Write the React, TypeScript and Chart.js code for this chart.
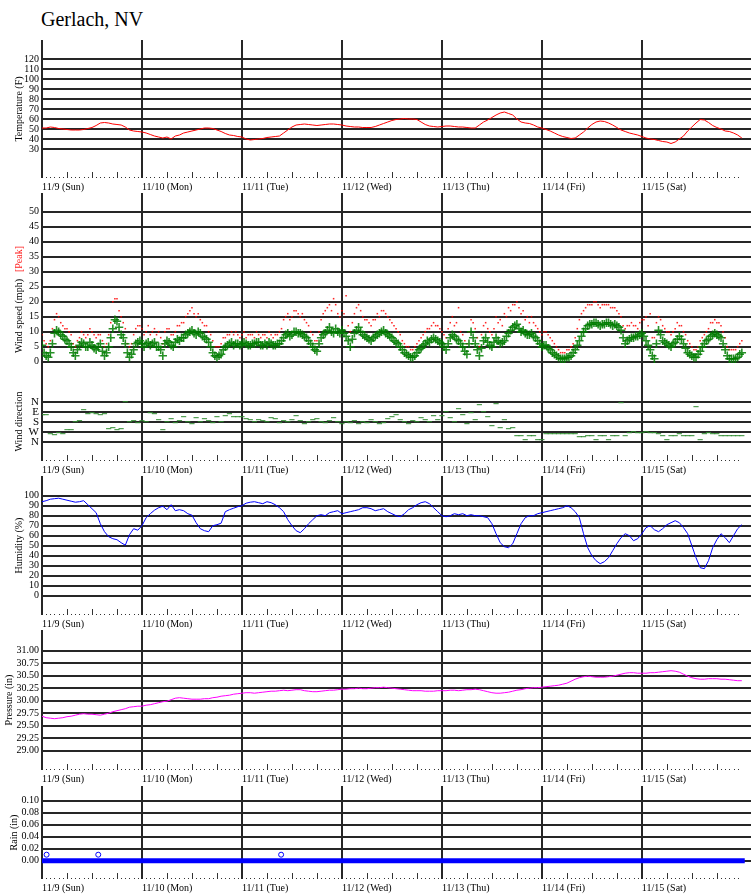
import React, { useEffect, useRef } from 'react';
import { Chart, registerables } from 'chart.js';

Chart.register(...registerables);

const FONT = "'Liberation Serif', 'Times New Roman', serif";
const GRID = '#262626';
const X_MAX = 170.2;

// Day ticks (hours since 11/9 00:00)
const DAY_TICKS = [0, 24, 48, 72, 96, 120, 144];
const DAY_LABELS = ['11/9 (Sun)', '11/10 (Mon)', '11/11 (Tue)', '11/12 (Wed)', '11/13 (Thu)', '11/14 (Fri)', '11/15 (Sat)'];

// Y ticks
const TEMP_TICKS = [30, 40, 50, 60, 70, 80, 90, 100, 110, 120];
const WIND_TICKS = [0, 5, 10, 15, 20, 25, 30, 35, 40, 45, 50];
const DIR_TICKS = [0, 1, 2, 3, 4];
const DIR_LABELS = ['N', 'W', 'S', 'E', 'N'];
const HUM_TICKS = [0, 10, 20, 30, 40, 50, 60, 70, 80, 90, 100];
const PRES_TICKS = [29.0, 29.25, 29.5, 29.75, 30.0, 30.25, 30.5, 30.75, 31.0];
const RAIN_TICKS = [0, 0.02, 0.04, 0.06, 0.08, 0.1];

// Hourly series, hour 0 .. 168
const TEMP_F = [
  51, 51, 52, 51.5, 50.5, 50, 49.5, 49, 49, 49, 49.5, 50.5, 51.5, 53.5, 56, 56.5, 56, 55, 54.5, 54, 52, 49, 48, 47.5,
  47, 46, 44.5, 43, 42, 41, 42, 40, 43, 44, 46, 47, 48, 49, 50, 51, 51, 50.5, 49, 47.5, 45.5, 44, 43.5, 42.5,
  42, 40, 39, 39.5, 40, 40.5, 41.5, 42, 42.5, 43, 46, 49, 52, 54, 54.5, 55, 54.5, 54, 53.5, 54, 54.5, 55, 55, 54.5,
  54, 53, 52.5, 52, 52, 51.5, 51.5, 51.5, 52.5, 54, 55.5, 57, 58.5, 59.5, 60, 60.5, 60, 60, 59.5, 57, 54.5, 53, 52.5, 52,
  52.5, 53, 53, 52.5, 52, 52, 51.5, 51, 51, 54, 57, 59, 61.5, 64, 66, 67, 65.5, 64, 60, 57, 56, 55.5, 54, 52,
  51, 49.5, 48, 46, 44, 42.5, 41.5, 40.5, 41, 44, 47, 51, 54.5, 57, 58, 57.5, 56, 54, 51.5, 49, 47.5, 46, 45, 44,
  42.5, 41, 40, 39.5, 38.5, 37.5, 37, 35.5, 37, 40, 43, 48, 52, 56, 59.5, 59, 56.5, 53.5, 51.5, 50, 48, 47.5, 46, 44, 41,
];

// Sustained wind, on the hour (0..168) and at half past (0.5..167.5)
const WIND_MPH = [
  5.5, 2, 3, 9.5, 10, 8.5, 7, 5, 2, 5.5, 6, 5, 5.5, 4, 6, 2, 5, 11, 13.5, 9, 6, 1.5, 4, 6.5,
  6, 6, 5.5, 6.5, 5, 2, 7, 5.5, 6.5, 7, 8, 9.5, 10.5, 9, 9.5, 8, 6.5, 3, 1.5, 2.5, 5, 6, 5.5, 6,
  6, 6, 5.5, 6, 6.5, 5.5, 5.5, 6, 5.5, 6, 8, 9.5, 9, 10, 9.5, 8.5, 7, 5, 3.5, 8, 9.5, 11.5, 9.5, 10,
  10.5, 8.5, 5, 9.5, 11.5, 9, 8, 7, 8.5, 9.5, 10.5, 9, 8, 6.5, 5, 3, 2, 1.5, 3, 4.5, 6, 6.5, 8, 7,
  6, 4, 8, 8.5, 7, 5, 2.5, 10, 6, 2, 7, 6.5, 5, 8, 6, 7, 9.5, 11.5, 12.5, 10, 9.5, 9, 8.5, 7,
  5, 5.5, 4, 2.5, 1.5, 1, 1.5, 2, 4, 7, 10, 12, 12.5, 13, 12, 12.5, 13, 12, 12, 10.5, 6, 7.5, 8, 8.5,
  9.5, 7, 4, 1, 10.5, 7, 6, 5, 6.5, 8.5, 6, 3, 2, 1.5, 3.5, 6, 7.5, 9, 9, 8, 4, 1, 1, 1.5, 3,
];
const WIND_MPH_HALF = [
  3, 1.5, 6, 10.5, 9, 7.5, 6, 3, 4, 6.5, 5, 6.5, 4.5, 5, 3.5, 3, 8, 14, 11.5, 8, 3, 2.5, 6, 7,
  5, 6.5, 6, 5, 4, 6, 6.5, 5, 7.5, 8, 9, 10, 9.5, 10, 8.5, 7.5, 5, 2, 2, 4, 5.5, 6.5, 6, 5.5,
  6.5, 5.5, 6, 6.5, 5.5, 6, 6.5, 5.5, 6, 7, 9, 8.5, 10, 9.5, 9, 8, 6, 4, 6, 9, 10.5, 10, 11, 9.5,
  9.5, 7, 7.5, 10.5, 10, 8.5, 7.5, 8, 9, 10, 9.5, 8.5, 7, 6, 4, 2.5, 1.5, 2, 4, 5.5, 7, 7.5, 7.5, 6.5,
  5, 6, 9, 7.5, 6, 3.5, 6, 8, 4, 4.5, 8, 5.5, 6.5, 7, 6.5, 8.5, 10.5, 12, 11, 10.5, 9, 9.5, 8, 6,
  5.5, 4.5, 3, 2, 1, 1, 1.5, 3, 5.5, 8.5, 11, 12.5, 13, 12.5, 12.5, 13, 12.5, 12.5, 11.5, 8, 7, 8, 8.5, 9,
  8.5, 5.5, 2, 6, 9, 6.5, 5.5, 6, 7.5, 7.5, 4.5, 2.5, 1.5, 2.5, 5, 7, 8.5, 9.5, 8.5, 6, 2, 1, 1, 2.5,
];

// Peak gusts, on the hour and at half past
const WIND_PEAK = [
  9, 6, 7, 14, 15, 12, 11, 9, 5, 8, 9, 9, 10, 8, 9, 5, 9, 20, 21, 15, 11, 5, 9, 12,
  11, 10, 9, 11, 10, 6, 11, 9, 10, 12, 13, 16, 18, 15, 14, 12, 10, 7, 5, 6, 8, 9, 9, 9,
  9, 8, 9, 8, 9, 9, 8, 9, 9, 10, 14, 16, 15, 17, 15, 14, 12, 9, 7, 14, 17, 19, 21, 16,
  17, 22, 10, 16, 19, 15, 14, 12, 14, 15, 17, 15, 13, 11, 9, 6, 5, 4, 6, 8, 10, 11, 13, 12,
  10, 8, 13, 12, 18, 9, 6, 14, 11, 5, 12, 11, 9, 15, 14, 16, 18, 19, 20, 16, 14, 13, 13, 11,
  9, 10, 8, 6, 4, 3, 4, 5, 8, 14, 17, 19, 19, 20, 18, 19, 19, 18, 17, 15, 11, 12, 12, 11,
  14, 15, 16, 8, 15, 12, 10, 9, 11, 12, 10, 7, 5, 4, 7, 9, 11, 13, 13, 12, 8, 4, 4, 5, 7,
];
const WIND_PEAK_HALF = [
  7, 5, 11, 16, 13, 11, 10, 6, 7, 10, 8, 11, 9, 9, 7, 6, 13, 21, 17, 13, 6, 6, 11, 12,
  9, 12, 10, 9, 8, 10, 11, 9, 12, 13, 15, 17, 16, 16, 13, 12, 9, 5, 5, 8, 9, 10, 10, 8,
  10, 9, 9, 10, 8, 9, 10, 8, 9, 11, 15, 14, 17, 16, 16, 13, 10, 7, 10, 16, 18, 17, 19, 15,
  16, 12, 13, 18, 17, 14, 13, 14, 16, 17, 16, 14, 12, 10, 7, 5, 4, 5, 7, 9, 11, 12, 12, 11,
  9, 11, 15, 13, 10, 7, 10, 13, 8, 9, 13, 10, 11, 13, 12, 15, 17, 19, 18, 17, 15, 15, 12, 10,
  10, 9, 7, 5, 3, 3, 4, 6, 11, 16, 18, 19, 20, 19, 19, 19, 18, 18, 16, 12, 12, 13, 12, 13,
  14, 12, 8, 13, 14, 11, 10, 10, 13, 12, 9, 6, 4, 5, 8, 10, 13, 14, 13, 10, 5, 4, 4, 6,
];

// Wind direction on the 0..4 scale (N, W, S, E, N from bottom)
const WIND_DIR = [
  2.7, 2.7, 0.8, 0.7, 0.9, 0.8, 1.2, 1.2, 2.0, 2.1, 3.2, 2.8, 2.9, 2.8, 2.7, 2.8, 1.3, 1.4, 1.2, 1.3, 4.0, 2.0, 2.1, 1.9,
  2.1, 2.0, 2.9, 2.8, 2.2, 1.2, 2.0, 2.3, 1.9, 2.1, 2.5, 2.0, 1.8, 2.4, 2.0, 2.3, 2.1, 1.9, 2.5, 2.0, 2.6, 2.8, 2.5, 2.5,
  2.5, 2.3, 2.2, 2.0, 2.2, 2.1, 2.0, 2.4, 2.3, 1.9, 2.1, 2.0, 2.2, 2.6, 2.1, 1.8, 2.0, 2.2, 2.3, 2.0, 1.9, 2.1, 2.4, 2.0,
  1.8, 2.0, 1.9, 2.1, 1.8, 2.0, 1.9, 2.2, 2.0, 1.8, 1.9, 2.3, 2.5, 2.7, 2.2, 2.0, 1.8, 2.1, 2.0, 2.4, 2.2, 2.0, 2.6, 2.2,
  2.6, 3.0, 2.4, 2.0, 3.3, 2.7, 1.8, 2.9, 2.2, 3.7, 3.0, 2.5, 1.6, 3.8, 1.4, 2.2, 1.3, 1.4, 0.6, 0.6, 0.2, 0.6, 0.6, 0.2,
  0.2, 0.8, 0.8, 0.8, 0.8, 0.8, 0.8, 0.8, 0.8, 0.5, 0.5, 0.6, 0.6, 0.2, 0.6, 0.6, 0.2, 0.6, 0.6, 3.9, 0.6, 0.9, 1.0, 0.9,
  0.9, 1.0, 0.9, 0.9, 0.8, 0.6, 0.2, 0.6, 0.6, 0.8, 0.6, 0.6, 0.6, 3.5, 0.2, 0.8, 0.9, 0.8, 0.8, 0.6, 0.6, 0.6, 0.6, 0.6, 0.6,
];

const HUMIDITY = [
  94, 95, 96.5, 97, 97.5, 96.5, 95.5, 94.5, 93.5, 94, 95, 91, 87, 83, 72, 64, 59, 57, 56, 53, 50.5, 61, 67, 65.5,
  70, 78, 82, 85.5, 88, 89.5, 86, 91, 85, 86, 85, 82, 80.5, 73, 67, 65, 64, 70, 71, 72.5, 84, 86, 87.5, 89,
  90, 92.5, 93.5, 94, 93, 92, 94, 93, 91, 88, 84, 76, 70, 65, 63, 67, 72, 76, 80, 81, 80, 83, 84, 85,
  82, 83, 84, 85, 86, 88, 88, 87, 85, 86, 87, 84, 82, 80, 79, 82, 86, 88, 91, 93, 94, 92, 88, 84,
  80, 79, 80, 82, 81, 82, 80, 81, 80, 80, 79, 78, 72, 62, 53, 49, 48, 52, 62, 72, 78, 80, 80, 82,
  83, 84, 85, 86, 87, 88, 90, 88, 84, 78, 62, 48, 40, 35, 32, 34, 38, 45, 52, 58, 62, 60, 55, 57,
  62, 68, 70, 66, 64, 67, 71, 73, 75, 73, 68, 62, 50, 38, 28, 27, 35, 48, 56, 62, 58, 53, 60, 67, 71,
];

const PRESSURE = [
  29.69, 29.66, 29.65, 29.64, 29.65, 29.66, 29.68, 29.69, 29.71, 29.73, 29.74, 29.73, 29.73, 29.72, 29.71, 29.73, 29.75, 29.78, 29.8, 29.82, 29.84, 29.87, 29.88, 29.89,
  29.89, 29.91, 29.92, 29.94, 29.96, 29.98, 29.99, 30.02, 30.05, 30.06, 30.05, 30.04, 30.03, 30.03, 30.03, 30.04, 30.04, 30.06, 30.07, 30.09, 30.1, 30.11, 30.13, 30.14,
  30.15, 30.16, 30.16, 30.15, 30.16, 30.17, 30.18, 30.19, 30.19, 30.2, 30.21, 30.2, 30.21, 30.22, 30.22, 30.2, 30.19, 30.18, 30.18, 30.19, 30.2, 30.21, 30.21, 30.22,
  30.23, 30.23, 30.24, 30.24, 30.25, 30.24, 30.24, 30.25, 30.26, 30.26, 30.27, 30.26, 30.25, 30.24, 30.23, 30.22, 30.21, 30.2, 30.2, 30.2, 30.19, 30.19, 30.19, 30.2,
  30.2, 30.2, 30.21, 30.21, 30.2, 30.21, 30.22, 30.22, 30.23, 30.22, 30.2, 30.18, 30.16, 30.15, 30.15, 30.16, 30.17, 30.19, 30.21, 30.22, 30.24, 30.25, 30.26, 30.26,
  30.27, 30.28, 30.29, 30.3, 30.31, 30.33, 30.35, 30.39, 30.43, 30.46, 30.48, 30.49, 30.48, 30.47, 30.47, 30.47, 30.48, 30.49, 30.51, 30.53, 30.55, 30.56, 30.56, 30.55,
  30.55, 30.55, 30.56, 30.56, 30.57, 30.58, 30.59, 30.6, 30.59, 30.57, 30.53, 30.49, 30.46, 30.44, 30.43, 30.43, 30.44, 30.44, 30.44, 30.43, 30.43, 30.42, 30.41, 30.4, 30.4,
];

const RAIN_HOURS = [0, 168.7];
const RAIN_IN = [0, 0];
const RAIN_TRACE_HOURS = [1.1, 13.5, 57.4];
const RAIN_TRACE_IN = [0.01, 0.01, 0.01];

const hourly = (arr: number[]) => arr.map((v, i) => ({ x: i, y: v }));
const halfHourly = (arr: number[]) => arr.map((v, i) => ({ x: i + 0.5, y: v }));
const paired = (xs: number[], ys: number[]) => xs.map((x, i) => ({ x, y: ys[i] }));

type PanelSpec = {
  top: number;
  height: number;
  xAxisHeight: number;
  yMin: number;
  yMax: number;
  yTicks: number[];
  yLabels: string[];
  tickFontSize: number;
  title: string | null;
  titlePad: number;
  showDayLabels: boolean;
  showHourTicks: boolean;
  datasets: any[];
  extraPlugins: any[];
};

const hourTicksPlugin = (on: boolean) => ({
  id: 'hourTicks',
  afterDraw(chart: any) {
    if (!on) return;
    const { ctx, chartArea, scales } = chart;
    const xs = scales.x;
    const b = chartArea.bottom;
    ctx.save();
    ctx.fillStyle = '#333';
    for (let h = 1; h < 168; h++) {
      if (h % 24 === 0) continue;
      const x = Math.round(xs.getPixelForValue(h));
      if (h % 6 === 0) ctx.fillRect(x, b - 6, 1, 6);
      else ctx.fillRect(x, b - 1, 1, 1);
    }
    ctx.restore();
  },
});

const windTitlePlugin = {
  id: 'windTitle',
  afterDraw(chart: any) {
    const ctx = chart.ctx;
    ctx.save();
    ctx.font = `10px ${FONT}`;
    const a = 'Wind speed (mph)';
    const b = '[Peak]';
    const gap = 7;
    const wa = ctx.measureText(a).width;
    const wb = ctx.measureText(b).width;
    const total = wa + gap + wb;
    ctx.translate(19, 106.5);
    ctx.rotate(-Math.PI / 2);
    ctx.textBaseline = 'middle';
    ctx.textAlign = 'left';
    ctx.fillStyle = '#000';
    ctx.fillText(a, -total / 2, 0);
    ctx.fillStyle = '#ff2020';
    ctx.fillText(b, -total / 2 + wa + gap, 0);
    ctx.restore();
  },
};

function buildPanels(): PanelSpec[] {
  return [
    {
      top: 40, height: 154, xAxisHeight: 16, yMin: 1, yMax: 139,
      yTicks: TEMP_TICKS, yLabels: TEMP_TICKS.map(String), tickFontSize: 10,
      title: 'Temperature (F)', titlePad: 13, showDayLabels: true, showHourTicks: true,
      datasets: [
        { data: hourly(TEMP_F), showLine: true, borderColor: '#ff0000', borderWidth: 1, pointRadius: 0 },
      ],
      extraPlugins: [],
    },
    {
      top: 193, height: 189, xAxisHeight: 0, yMin: -6.77, yMax: 56.23,
      yTicks: WIND_TICKS, yLabels: WIND_TICKS.map(String), tickFontSize: 10,
      title: null, titlePad: 0, showDayLabels: false, showHourTicks: false,
      datasets: [
        {
          data: [...hourly(WIND_MPH), ...halfHourly(WIND_MPH_HALF)],
          pointStyle: 'cross', pointRadius: 4.2, pointBorderWidth: 1.6,
          borderColor: 'rgba(0,125,0,0.85)', backgroundColor: 'rgba(0,125,0,0.85)',
        },
        {
          data: [...hourly(WIND_PEAK), ...halfHourly(WIND_PEAK_HALF)],
          pointStyle: 'rect', pointRadius: 1.1, pointBorderWidth: 0,
          borderColor: 'rgba(255,0,0,0.85)', backgroundColor: 'rgba(255,0,0,0.85)',
        },
      ],
      extraPlugins: [windTitlePlugin],
    },
    {
      top: 382, height: 95, xAxisHeight: 16, yMin: -1.93, yMax: 5.97,
      yTicks: DIR_TICKS, yLabels: DIR_LABELS, tickFontSize: 11,
      title: 'Wind direction', titlePad: 13, showDayLabels: true, showHourTicks: true,
      datasets: [
        { data: hourly(WIND_DIR), pointStyle: 'line', pointRadius: 2.6, pointBorderWidth: 1, borderColor: '#2e8b2e', backgroundColor: '#2e8b2e' },
      ],
      extraPlugins: [],
    },
    {
      top: 476, height: 155, xAxisHeight: 16, yMin: -19.3, yMax: 119.7,
      yTicks: HUM_TICKS, yLabels: HUM_TICKS.map(String), tickFontSize: 10,
      title: 'Humidity (%)', titlePad: 13, showDayLabels: true, showHourTicks: true,
      datasets: [
        { data: hourly(HUMIDITY), showLine: true, borderColor: '#0000ff', borderWidth: 1, pointRadius: 0 },
      ],
      extraPlugins: [],
    },
    {
      top: 630, height: 156, xAxisHeight: 16, yMin: 28.614, yMax: 31.414,
      yTicks: PRES_TICKS, yLabels: PRES_TICKS.map((v) => v.toFixed(2)), tickFontSize: 10,
      title: 'Pressure (in)', titlePad: 3, showDayLabels: true, showHourTicks: true,
      datasets: [
        { data: hourly(PRESSURE), showLine: true, borderColor: '#ff00ff', borderWidth: 1, pointRadius: 0 },
      ],
      extraPlugins: [],
    },
    {
      top: 786, height: 109, xAxisHeight: 16, yMin: -0.0305, yMax: 0.1245,
      yTicks: RAIN_TICKS, yLabels: RAIN_TICKS.map((v) => v.toFixed(2)), tickFontSize: 10,
      title: 'Rain (in)', titlePad: 8, showDayLabels: true, showHourTicks: true,
      datasets: [
        { data: paired(RAIN_TRACE_HOURS, RAIN_TRACE_IN), pointStyle: 'circle', pointRadius: 2.5, pointBorderWidth: 1, borderColor: '#0000ff', backgroundColor: '#ffffff' },
        { data: paired(RAIN_HOURS, RAIN_IN), showLine: true, borderColor: '#0000ff', borderWidth: 5, pointRadius: 0 },
      ],
      extraPlugins: [],
    },
  ];
}

function buildConfig(p: PanelSpec): any {
  return {
    type: 'scatter',
    data: { datasets: p.datasets },
    options: {
      animation: false,
      responsive: false,
      maintainAspectRatio: false,
      events: [],
      layout: { padding: 0, autoPadding: false },
      plugins: { legend: { display: false }, tooltip: { enabled: false }, title: { display: false } },
      scales: {
        x: {
          type: 'linear',
          min: 0,
          max: X_MAX,
          afterBuildTicks: (s: any) => {
            s.ticks = DAY_TICKS.map((v) => ({ value: v }));
          },
          ticks: {
            display: p.showDayLabels,
            autoSkip: false,
            maxRotation: 0,
            minRotation: 0,
            align: 'start',
            padding: 3,
            color: '#000',
            font: { family: FONT, size: 10 },
            callback: (_v: any, i: number) => DAY_LABELS[i] ?? '',
          },
          grid: { color: GRID, lineWidth: 2, drawTicks: false },
          border: { display: false },
          afterFit: (s: any) => {
            s.height = p.xAxisHeight;
            s.paddingLeft = 0;
            s.paddingRight = 0;
          },
        },
        y: {
          type: 'linear',
          min: p.yMin,
          max: p.yMax,
          afterBuildTicks: (s: any) => {
            s.ticks = p.yTicks.map((v) => ({ value: v }));
          },
          ticks: {
            autoSkip: false,
            padding: 3,
            color: '#000',
            font: { family: FONT, size: p.tickFontSize },
            callback: (_v: any, i: number) => p.yLabels[i] ?? '',
          },
          grid: { color: GRID, lineWidth: 2, drawTicks: false },
          border: { display: false },
          title: {
            display: !!p.title,
            text: p.title ?? '',
            color: '#000',
            font: { family: FONT, size: 10 },
            padding: { top: p.titlePad, bottom: 0 },
          },
          afterFit: (s: any) => {
            s.width = 42;
            s.paddingTop = 0;
            s.paddingBottom = 0;
          },
        },
      },
    },
    plugins: [hourTicksPlugin(p.showHourTicks), ...p.extraPlugins],
  };
}

export default function App() {
  const refs = useRef<(HTMLCanvasElement | null)[]>([]);
  const panels = buildPanels();

  useEffect(() => {
    const specs = buildPanels();
    const charts = specs.map((p, i) => new Chart(refs.current[i] as HTMLCanvasElement, buildConfig(p)));
    return () => charts.forEach((c) => c.destroy());
  }, []);

  return (
    <div style={{ position: 'absolute', left: 0, top: 0, width: 751, height: 895, background: '#fff', overflow: 'hidden' }}>
      <div
        style={{
          position: 'absolute',
          left: 41,
          top: 9,
          fontFamily: FONT,
          fontSize: 20,
          lineHeight: '20px',
          color: '#000',
          whiteSpace: 'nowrap',
        }}
      >
        Gerlach, NV
      </div>
      {panels.map((p, i) => (
        <canvas
          key={i}
          ref={(el) => {
            refs.current[i] = el;
          }}
          width={751}
          height={p.height}
          style={{ position: 'absolute', left: 0, top: p.top, width: 751, height: p.height, display: 'block' }}
        />
      ))}
    </div>
  );
}
